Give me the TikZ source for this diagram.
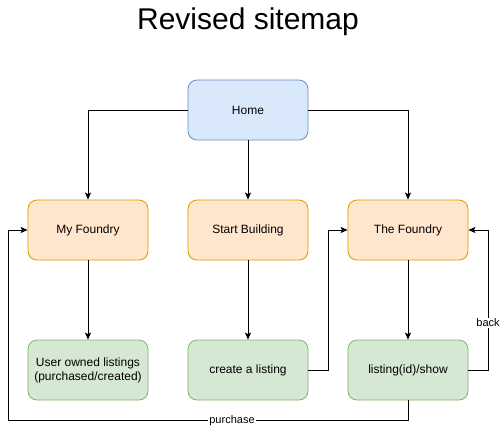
\documentclass[tikz,border=0pt]{standalone}
\usepackage{fontspec}
\setmainfont{Liberation Sans}
\usetikzlibrary{arrows.meta}
\definecolor{bfill}{HTML}{DAE8FC}\definecolor{bdraw}{HTML}{6C8EBF}
\definecolor{ofill}{HTML}{FFE6CC}\definecolor{odraw}{HTML}{D79B00}
\definecolor{gfill}{HTML}{D5E8D4}\definecolor{gdraw}{HTML}{82B366}
\begin{document}
\begin{tikzpicture}[x=1pt,y=-1pt,
  box/.style={rounded corners=9pt,minimum width=120pt,minimum height=60pt,inner sep=0pt,align=center,font=\fontsize{12}{14}\selectfont,line width=0.8pt},
  bluebox/.style={box,fill=bfill,draw=bdraw},
  orangebox/.style={box,fill=ofill,draw=odraw},
  greenbox/.style={box,fill=gfill,draw=gdraw},
  conn/.style={line width=1pt,-{Stealth[length=7pt,width=6pt,inset=1.5pt]}},
  lbl/.style={fill=white,inner sep=1pt,font=\fontsize{11}{13}\selectfont}]
\useasboundingbox (0,0) rectangle (501,429);
\node[font=\fontsize{30}{34}\selectfont] (title) at (248,22) {Revised sitemap};
\node[bluebox] (home) at (248,110) {Home};
\node[orangebox] (myf) at (88,230) {My Foundry};
\node[orangebox] (sb) at (248,230) {Start Building};
\node[orangebox] (tf) at (408,230) {The Foundry};
\node[greenbox] (uol) at (88,370) {User owned listings\\(purchased/created)};
\node[greenbox] (cal) at (248,370) {create a listing};
\node[greenbox] (lis) at (408,370) {listing(id)/show};
\coordinate (pL) at (8,420);
\coordinate (pR) at (488,370);
\draw[conn] (home.west) -| (myf.north);
\draw[conn] (home.south) -- (sb.north);
\draw[conn] (home.east) -| (tf.north);
\draw[conn] (myf.south) -- (uol.north);
\draw[conn] (sb.south) -- (cal.north);
\draw[conn] (tf.south) -- (lis.north);
\draw[conn] (cal.east) -- ++(20,0) |- (tf.west);
\draw[conn] (lis.east) -- (pR) |- node[lbl,pos=0.168] {back} (tf.east);
\draw[conn] (lis.south) |- (pL) |- (myf.west);
\node[lbl] (purch) at (232,421) {purchase};
\end{tikzpicture}
\end{document}
